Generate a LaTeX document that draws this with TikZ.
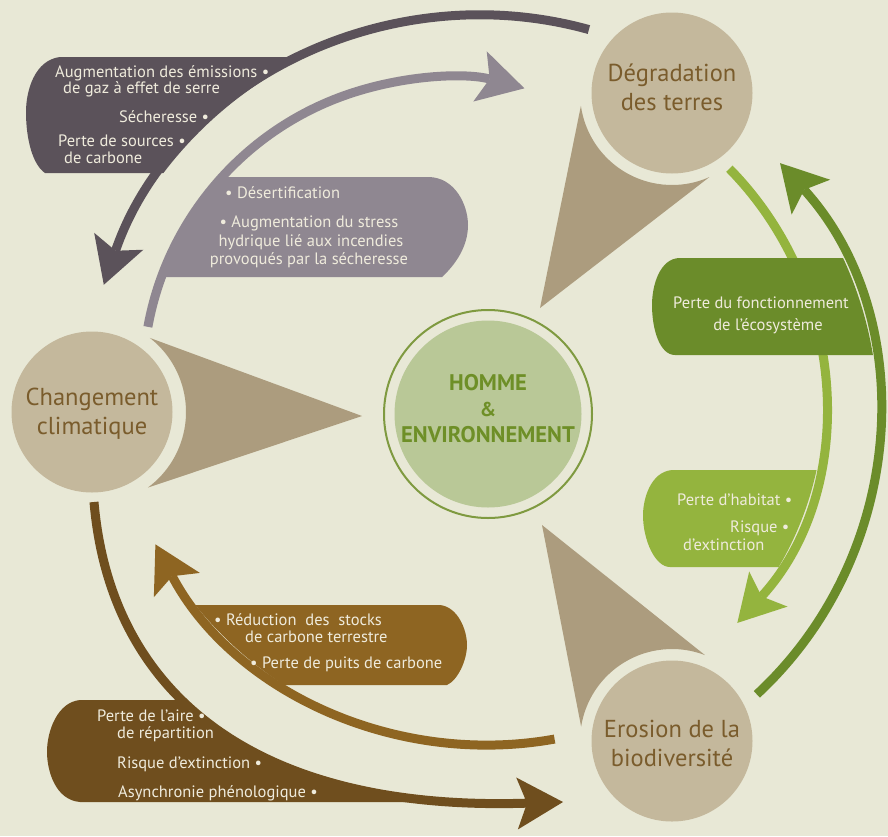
\documentclass[tikz,border=0pt]{standalone}
\usepackage{fontspec}
\setmainfont{PT Sans}
\usetikzlibrary{arrows.meta,calc}
\definecolor{bg}{HTML}{E8E8D6}
\definecolor{beige}{HTML}{C4B89C}
\definecolor{wedge}{HTML}{AC9C7E}
\definecolor{ctext}{HTML}{7A5C2C}
\definecolor{dgray}{HTML}{5B525A}
\definecolor{lgray}{HTML}{8F8791}
\definecolor{dgreen}{HTML}{6B8C2A}
\definecolor{lgreen}{HTML}{94B43E}
\definecolor{lbrown}{HTML}{8E6522}
\definecolor{dbrown}{HTML}{6F4E1E}
\definecolor{sage}{HTML}{B9C897}
\definecolor{ring}{HTML}{7F9A40}
\definecolor{htext}{HTML}{6E8F27}
\definecolor{btext}{HTML}{EFEBDC}
\begin{document}
\begin{tikzpicture}[x=1pt,y=1pt,yscale=-1,
  circ/.style={circle,fill=beige,minimum size=161pt,inner sep=0pt},
  ctxt/.style={text=ctext,align=center,inner sep=0pt,font=\fontsize{24.5}{29}\selectfont},
  btxt/.style={text=btext,inner sep=0pt,font=\fontsize{16.5}{16.5}\selectfont},
  htxt/.style={text=htext,inner sep=0pt,font=\bfseries\fontsize{22.6}{22.6}\selectfont},
  flow/.style={line width=9pt,-{Stealth[length=46pt,width=52pt,inset=10pt,line width=0pt]}},
]
\useasboundingbox (0,0) rectangle (888,836);
\fill[bg] (0,0) rectangle (888,836);

% arc centres
\coordinate (cDG) at (482,415);
\coordinate (cLG) at (446,381);
\coordinate (cGD) at (500,417);
\coordinate (cGL) at (494,400);
\coordinate (cBL) at (488,369);

% circles
\node[circ] (deg) at (672,93) {};
\node[circ] (chg) at (92,412) {};
\node[circ] (ero) at (672,741) {};
\node[ctxt] (degt) at (672,87) {Dégradation\\des terres};
\node[ctxt] (chgt) at (92,414) {Changement\\climatique};
\node[ctxt] (erot) at (672,743) {Erosion de la\\biodiversité};
\node[circle,draw=ring,line width=2pt,minimum size=208pt,inner sep=0pt] (homring) at (488,414) {};
\node[circle,fill=sage,minimum size=187pt,inner sep=0pt] (hom) at (488,414) {};
\node[htxt] (h1) at (488,383) {HOMME};
\node[htxt,font=\bfseries\fontsize{20}{20}\selectfont] (h2) at (488,409) {\&};
\node[htxt] (h3) at (488,435) {ENVIRONNEMENT};

% wedges
\fill[wedge] ($(chg.center)+(-52:94)$) arc[start angle=-52,end angle=53.5,radius=94] -- (362,416) -- cycle;
\fill[wedge] ($(deg.center)+(66:92)$) arc[start angle=66,end angle=172,radius=92] -- (540,308) -- cycle;
\fill[wedge] ($(ero.center)+(-69:92)$) arc[start angle=-69,end angle=-171,radius=92] -- (542,525) -- cycle;

% dark gray box + arrow
\begin{scope}
\clip ($(cDG)+(-74.5:400)$) arc[start angle=-74.5,end angle=-161,radius=400] -- (0,285) -- (0,0) -- (589,0) -- cycle;
\fill[dgray] (60,57) -- (400,57) -- (400,173) -- (45,173) .. controls (33,165) and (26,140) .. (26,112) .. controls (26,90) and (35,60) .. (60,57) -- cycle;
\end{scope}
\draw[flow,dgray] ($(cDG)+(-74.5:400)$) arc[start angle=-74.5,end angle=-161,radius=400];

% light gray box + arrow
\begin{scope}
\clip (cLG) circle (303);
\fill[lgray] (150,177) -- (428,177) .. controls (455,177) and (468,205) .. (468,225) .. controls (468,247) and (455,265) .. (442,277) -- (150,277) -- cycle;
\end{scope}
\draw[flow,lgray] ($(cLG)+(-169.7:303)$) arc[start angle=-169.7,end angle=-75,radius=303];

% light green box + arrow
\begin{scope}
\clip (cGL) circle (330);
\fill[lgreen] (900,470) -- (672,470) .. controls (650,472) and (643,500) .. (643,515) .. controls (643,540) and (655,567) .. (670,567) -- (900,567) -- cycle;
\end{scope}
\draw[flow,lgreen] ($(cGL)+(-44.5:330)$) arc[start angle=-44.5,end angle=42.5,radius=330];

% dark green box + arrow
\begin{scope}
\clip (cGD) circle (378);
\fill[dgreen] (900,258) -- (680,258) .. controls (660,258) and (652,285) .. (652,305) .. controls (652,330) and (660,355) .. (675,355) -- (900,355) -- cycle;
\end{scope}
\draw[flow,dgreen] ($(cGD)+(47.2:378)$) arc[start angle=47.2,end angle=-42.2,radius=378];

% light brown box + arrow
\begin{scope}
\clip (cBL) circle (376);
\fill[lbrown] (150,605) -- (440,605) .. controls (458,607) and (467,630) .. (467,645) .. controls (467,660) and (458,680) .. (447,685) -- (150,685) -- cycle;
\end{scope}
\draw[flow,lbrown] ($(cBL)+(79.8:376)$) arc[start angle=79.8,end angle=152.2,radius=376];

% dark brown box + arrow
\coordinate (dbS) at (94,502);
\coordinate (dbE) at (563,802);
\begin{scope}
\clip (dbS) .. controls (110,690) and (250,812) .. (dbE) -- (600,836) -- (0,836) -- (0,502) -- cycle;
\fill[dbrown] (80,700) -- (440,700) -- (440,802) -- (80,802) .. controls (55,800) and (47,770) .. (47,752) .. controls (47,730) and (58,702) .. (80,700) -- cycle;
\end{scope}
\draw[flow,dbrown] (dbS) .. controls (110,690) and (250,812) .. (dbE);

% texts: dark gray box
\node[btxt,anchor=base west] (a1) at (55,77) {Augmentation des émissions \textbullet};
\node[btxt,anchor=base west] (a2) at (63,93) {de gaz à effet de serre};
\node[btxt,anchor=base west] (a3) at (119,122) {Sécheresse \textbullet};
\node[btxt,anchor=base west] (a4) at (58,146) {Perte de sources \textbullet};
\node[btxt,anchor=base west] (a5) at (64,163) {de carbone};
% light gray box
\node[btxt,anchor=base west] (b1) at (225,198) {\textbullet\ Désertification};
\node[btxt,anchor=base] (b2) at (309,227) {\textbullet\ Augmentation du stress};
\node[btxt,anchor=base] (b3) at (311,246) {hydrique lié aux incendies};
\node[btxt,anchor=base] (b4) at (309,264) {provoqués par la sécheresse};
% dark green box
\node[btxt,anchor=base] (c1) at (761,308) {Perte du fonctionnement};
\node[btxt,anchor=base] (c2) at (768,330) {de l'écosystème};
% light green box
\node[btxt,anchor=base west] (d1) at (677,505) {Perte d'habitat \textbullet};
\node[btxt,anchor=base west] (d2) at (730,532) {Risque \textbullet};
\node[btxt,anchor=base west] (d3) at (683,550) {d'extinction};
% light brown box
\node[btxt,anchor=base west] (e1) at (214,625) {\textbullet\ Réduction\ \ des\ \ stocks};
\node[btxt,anchor=base west] (e2) at (245,642) {de carbone terrestre};
\node[btxt,anchor=base west] (e3) at (250,668) {\textbullet\ Perte de puits de carbone};
% dark brown box
\node[btxt,anchor=base west] (f1) at (97,721) {Perte de l'aire \textbullet};
\node[btxt,anchor=base west] (f2) at (117,738) {de répartition};
\node[btxt,anchor=base west] (f3) at (117,768) {Risque d'extinction \textbullet};
\node[btxt,anchor=base west] (f4) at (118,797) {Asynchronie phénologique \textbullet};
\end{tikzpicture}
\end{document}
